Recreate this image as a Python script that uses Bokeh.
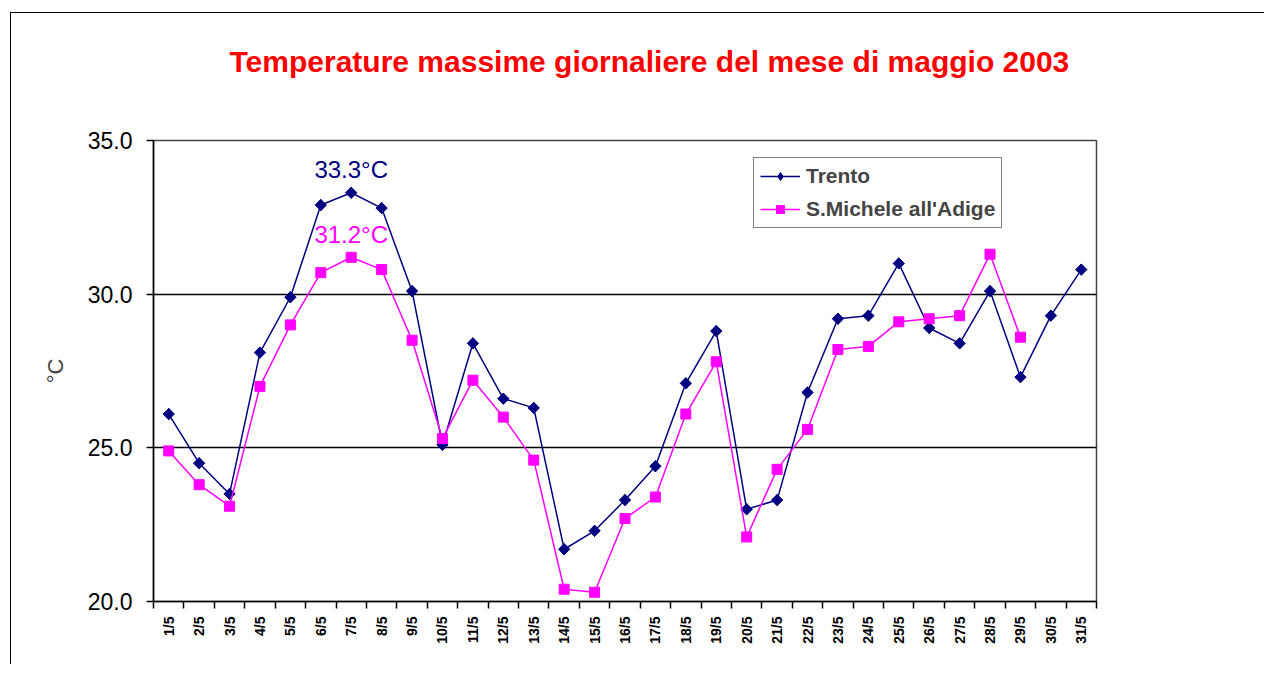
from bokeh.plotting import figure
from bokeh.models import FixedTicker, NumeralTickFormatter, Label, Legend
from bokeh.embed import file_html
from bokeh.resources import INLINE
import math

days = ["1/5", "2/5", "3/5", "4/5", "5/5", "6/5", "7/5", "8/5", "9/5", "10/5",
        "11/5", "12/5", "13/5", "14/5", "15/5", "16/5", "17/5", "18/5", "19/5", "20/5",
        "21/5", "22/5", "23/5", "24/5", "25/5", "26/5", "27/5", "28/5", "29/5", "30/5", "31/5"]
trento = [26.1, 24.5, 23.5, 28.1, 29.9, 32.9, 33.3, 32.8, 30.1, 25.1,
          28.4, 26.6, 26.3, 21.7, 22.3, 23.3, 24.4, 27.1, 28.8, 23.0,
          23.3, 26.8, 29.2, 29.3, 31.0, 28.9, 28.4, 30.1, 27.3, 29.3, 30.8]
smichele = [24.9, 23.8, 23.1, 27.0, 29.0, 30.7, 31.2, 30.8, 28.5, 25.3,
            27.2, 26.0, 24.6, 20.4, 20.3, 22.7, 23.4, 26.1, 27.8, 22.1,
            24.3, 25.6, 28.2, 28.3, 29.1, 29.2, 29.3, 31.3, 28.6]
y_ticks = [20, 25, 30, 35]
title_text = "Temperature massime giornaliere del mese di maggio 2003"

FONT = "Liberation Sans"
NAVY = "#000080"
MAG = "#FF00FF"

x_t = list(range(1, len(trento) + 1))
x_s = list(range(1, len(smichele) + 1))

p = figure(width=1254, height=652, output_backend="svg", toolbar_location=None,
           x_range=(0.5, len(days) + 0.5), y_range=(y_ticks[0], y_ticks[-1]),
           min_border_left=142, min_border_right=169, min_border_top=127,
           min_border_bottom=64)
p.margin = (12, 0, 0, 10)
p.styles = {"border-top": "1px solid black", "border-left": "1.5px solid black"}

p.outline_line_color = "#444444"
p.outline_line_width = 1.5

p.title.text = title_text
p.title.text_color = "#FF0000"
p.title.text_font = FONT
p.title.text_font_style = "bold"
p.title.text_font_size = "30px"
p.title.align = "left"
p.title.offset = 76
p.title.vertical_align = "bottom"
p.title.standoff = 10
p.title.padding = dict(left=0, right=0, top=0, bottom=58)

# y axis
p.yaxis.ticker = FixedTicker(ticks=y_ticks)
p.yaxis.formatter = NumeralTickFormatter(format="0.0")
p.yaxis.major_label_text_font = FONT
p.yaxis.major_label_text_font_size = "23px"
p.yaxis.major_label_text_color = "black"
p.yaxis.major_tick_out = 7
p.yaxis.major_tick_in = 0
p.yaxis.minor_tick_out = 0
p.yaxis.minor_tick_in = 0
p.yaxis.axis_line_color = "black"
p.yaxis.axis_line_width = 1.5
p.yaxis.major_tick_line_width = 1.5
p.yaxis.major_label_standoff = 14
p.yaxis.axis_label = "°C"
p.yaxis.axis_label_text_font = FONT
p.yaxis.axis_label_text_font_size = "22px"
p.yaxis.axis_label_text_font_style = "normal"
p.yaxis.axis_label_standoff = 17

# x axis
xt = list(range(1, len(days) + 1))
p.xaxis.ticker = FixedTicker(ticks=xt, minor_ticks=[i + 0.5 for i in range(0, len(days) + 1)])
p.xaxis.major_label_overrides = {i + 1: d for i, d in enumerate(days)}
p.xaxis.major_label_orientation = math.pi / 2
p.xaxis.major_label_text_font = FONT
p.xaxis.major_label_text_font_style = "bold"
p.xaxis.major_label_text_font_size = "14px"
p.xaxis.major_label_text_color = "black"
p.xaxis.major_tick_out = 0
p.xaxis.major_tick_in = 0
p.xaxis.minor_tick_out = 7
p.xaxis.minor_tick_in = 0
p.xaxis.minor_tick_line_color = "black"
p.xaxis.minor_tick_line_width = 1.5
p.xaxis.axis_line_color = "black"
p.xaxis.axis_line_width = 1.5
p.xaxis.major_label_standoff = 8

p.xgrid.visible = False
p.ygrid.ticker = FixedTicker(ticks=y_ticks)
p.ygrid.grid_line_color = "black"
p.ygrid.grid_line_width = 1.5

l1 = p.line(x_t, trento, line_color=NAVY, line_width=1.5)
# diamond marker (used by the legend) under a rotated square of the same colour
m1 = p.scatter(x_t, trento, marker="diamond", size=11, fill_color=NAVY, line_color=NAVY)
p.rect(x_t, trento, width=8, height=8, width_units="screen", height_units="screen",
       angle=math.pi / 4, fill_color=NAVY, line_color=NAVY)
l2 = p.line(x_s, smichele, line_color=MAG, line_width=1.5)
m2 = p.scatter(x_s, smichele, marker="square", size=10, fill_color=MAG, line_color=MAG)

legend = Legend(items=[("Trento", [l1, m1]), ("S.Michele all'Adige", [l2, m2])],
                location=(600, 373))
legend.label_text_font = FONT
legend.label_text_font_style = "bold"
legend.label_text_font_size = "21px"
legend.border_line_color = "black"
legend.border_line_width = 1.5
legend.glyph_width = 40
legend.glyph_height = 20
legend.spacing = 9
legend.padding = 6
legend.margin = 0
legend.label_standoff = 6
p.add_layout(legend)

# peak annotations
it = trento.index(max(trento))
p.add_layout(Label(x=x_t[it], y=trento[it], y_offset=10, text=f"{trento[it]:.1f}°C",
                   text_align="center", text_baseline="bottom", text_color=NAVY,
                   text_font=FONT, text_font_size="24px"))
js = smichele.index(max(smichele[:10]))
p.add_layout(Label(x=x_s[js], y=smichele[js], y_offset=9, text=f"{smichele[js]:.1f}°C",
                   text_align="center", text_baseline="bottom", text_color=MAG,
                   text_font=FONT, text_font_size="24px"))

open("out.html", "w").write(file_html(p, INLINE))
